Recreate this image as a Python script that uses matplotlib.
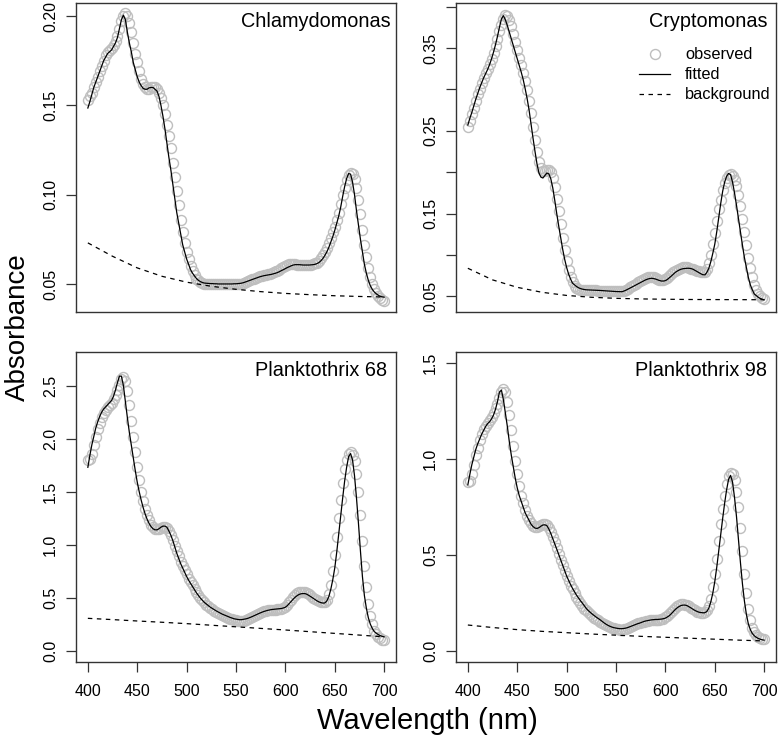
import numpy as np
import matplotlib
matplotlib.use("Agg")
import matplotlib.pyplot as plt
from matplotlib.lines import Line2D

plt.rcParams['font.family'] = ['Liberation Sans', 'DejaVu Sans']

# wavelength grids (nm)
nm = np.arange(400, 701, 2)       # observed + fitted spectra
bg_nm = np.arange(400, 701, 25)   # background curves

names = ['Chlamydomonas', 'Cryptomonas', 'Planktothrix 68', 'Planktothrix 98']

# --- Chlamydomonas ---
chla_obs = [
    0.153, 0.155, 0.157, 0.160, 0.163, 0.166, 0.169, 0.172, 0.175, 0.178,
    0.180, 0.181, 0.182, 0.184, 0.186, 0.189, 0.193, 0.197, 0.200, 0.2015,
    0.200, 0.196, 0.191, 0.185, 0.179, 0.174, 0.169, 0.165, 0.162, 0.160,
    0.159, 0.159, 0.160, 0.160, 0.160, 0.159, 0.157, 0.154, 0.150, 0.145,
    0.139, 0.133, 0.126, 0.118, 0.110, 0.102, 0.094, 0.086, 0.079, 0.073,
    0.068, 0.064, 0.060, 0.057, 0.055, 0.053, 0.052, 0.051, 0.0505, 0.0502,
    0.0500, 0.0500, 0.0500, 0.0500, 0.0500, 0.0500, 0.0500, 0.0500, 0.0500, 0.0500,
    0.0500, 0.0500, 0.0500, 0.0500, 0.0500, 0.0500, 0.0500, 0.0500, 0.0500, 0.0505,
    0.051, 0.0515, 0.052, 0.0525, 0.053, 0.0535, 0.054, 0.0543, 0.0546, 0.0549,
    0.0552, 0.0555, 0.0558, 0.056, 0.0565, 0.057, 0.0575, 0.058, 0.0588, 0.0595,
    0.060, 0.0605, 0.061, 0.061, 0.061, 0.061, 0.0608, 0.0606, 0.0605, 0.0604,
    0.0604, 0.0605, 0.0606, 0.0608, 0.061, 0.0615, 0.062, 0.063, 0.0645, 0.066,
    0.068, 0.070, 0.073, 0.076, 0.079, 0.082, 0.086, 0.090, 0.095, 0.100,
    0.104, 0.108, 0.111, 0.112, 0.1115, 0.109, 0.104, 0.097, 0.089, 0.080,
    0.072, 0.065, 0.059, 0.054, 0.050, 0.047, 0.045, 0.043, 0.042, 0.041,
    0.0405]
chla_fit = [
    0.1485, 0.152, 0.156, 0.160, 0.163, 0.166, 0.169, 0.172, 0.175, 0.177,
    0.179, 0.180, 0.181, 0.183, 0.185, 0.188, 0.193, 0.198, 0.2005, 0.198,
    0.191, 0.185, 0.180, 0.174, 0.170, 0.166, 0.163, 0.161, 0.1595, 0.159,
    0.159, 0.1598, 0.160, 0.160, 0.159, 0.158, 0.155, 0.150, 0.144, 0.137,
    0.129, 0.121, 0.114, 0.106, 0.098, 0.090, 0.084, 0.078, 0.072, 0.068,
    0.064, 0.061, 0.058, 0.056, 0.0545, 0.053, 0.052, 0.0513, 0.0508, 0.0505,
    0.0504, 0.0503, 0.0502, 0.0502, 0.0501, 0.0501, 0.0500, 0.0500, 0.0500, 0.0500,
    0.0500, 0.0500, 0.0500, 0.0500, 0.0501, 0.0501, 0.0502, 0.0503, 0.0505, 0.0508,
    0.0512, 0.0516, 0.0520, 0.0524, 0.0528, 0.0532, 0.0536, 0.0540, 0.0543, 0.0546,
    0.0548, 0.0550, 0.0552, 0.0554, 0.0557, 0.0560, 0.0564, 0.0569, 0.0575, 0.0580,
    0.0586, 0.0592, 0.0597, 0.0602, 0.0606, 0.0608, 0.0608, 0.0608, 0.0607, 0.0606,
    0.0606, 0.0606, 0.0606, 0.0607, 0.0608, 0.0610, 0.0614, 0.0620, 0.0630, 0.0643,
    0.066, 0.068, 0.0705, 0.0735, 0.0765, 0.080, 0.084, 0.088, 0.093, 0.099,
    0.1045, 0.109, 0.1118, 0.1115, 0.107, 0.100, 0.091, 0.083, 0.075, 0.068,
    0.061, 0.056, 0.052, 0.049, 0.047, 0.0455, 0.0445, 0.0437, 0.0431, 0.0428,
    0.0426]
chla_bg = [0.0730, 0.0655, 0.0590, 0.0543, 0.0510, 0.0487, 0.0470,
           0.0457, 0.0447, 0.0440, 0.0434, 0.0430, 0.0427]

# --- Cryptomonas ---
cryp_obs = [
    0.255, 0.262, 0.270, 0.278, 0.286, 0.294, 0.301, 0.308, 0.314, 0.320,
    0.325, 0.331, 0.337, 0.344, 0.352, 0.361, 0.370, 0.378, 0.385, 0.390,
    0.389, 0.384, 0.376, 0.367, 0.357, 0.347, 0.338, 0.329, 0.320, 0.310,
    0.299, 0.286, 0.271, 0.255, 0.239, 0.224, 0.212, 0.205, 0.202, 0.202,
    0.203, 0.203, 0.200, 0.193, 0.182, 0.168, 0.153, 0.137, 0.121, 0.106,
    0.093, 0.082, 0.073, 0.067, 0.063, 0.060, 0.059, 0.058, 0.058, 0.0578,
    0.0577, 0.0576, 0.0575, 0.0574, 0.0573, 0.0572, 0.0571, 0.0570, 0.0569, 0.0567,
    0.0566, 0.0565, 0.0564, 0.0563, 0.0562, 0.0561, 0.0560, 0.0560, 0.0562, 0.0570,
    0.058, 0.0595, 0.061, 0.0625, 0.064, 0.0655, 0.067, 0.0685, 0.070, 0.0712,
    0.0722, 0.073, 0.0735, 0.0735, 0.073, 0.072, 0.071, 0.0703, 0.070, 0.0703,
    0.0712, 0.0728, 0.0748, 0.077, 0.079, 0.081, 0.0825, 0.0837, 0.0845, 0.085,
    0.0852, 0.085, 0.0845, 0.0837, 0.0828, 0.0818, 0.081, 0.0802, 0.0795, 0.0792,
    0.080, 0.083, 0.090, 0.100, 0.113, 0.127, 0.141, 0.155, 0.167, 0.178,
    0.187, 0.193, 0.1965, 0.1975, 0.196, 0.191, 0.183, 0.172, 0.159, 0.144,
    0.128, 0.112, 0.097, 0.084, 0.073, 0.064, 0.058, 0.053, 0.050, 0.0485,
    0.0475]
cryp_fit = [
    0.257, 0.265, 0.272, 0.280, 0.288, 0.295, 0.302, 0.308, 0.314, 0.319,
    0.324, 0.330, 0.337, 0.345, 0.354, 0.364, 0.375, 0.385, 0.389, 0.384,
    0.377, 0.369, 0.361, 0.353, 0.345, 0.337, 0.329, 0.321, 0.312, 0.301,
    0.289, 0.275, 0.258, 0.241, 0.225, 0.210, 0.199, 0.194, 0.193, 0.196,
    0.199, 0.198, 0.192, 0.181, 0.166, 0.150, 0.135, 0.121, 0.107, 0.095,
    0.085, 0.077, 0.071, 0.066, 0.064, 0.062, 0.0605, 0.0595, 0.0588, 0.0583,
    0.0580, 0.0579, 0.0578, 0.0577, 0.0575, 0.0574, 0.0573, 0.0572, 0.0570, 0.0569,
    0.0567, 0.0566, 0.0564, 0.0562, 0.0561, 0.0559, 0.0558, 0.0557, 0.0557, 0.0565,
    0.0575, 0.0587, 0.0599, 0.0612, 0.0625, 0.0638, 0.0650, 0.0662, 0.0675, 0.0688,
    0.0700, 0.0709, 0.0716, 0.0719, 0.0716, 0.0710, 0.0701, 0.0692, 0.0686, 0.0686,
    0.0690, 0.0705, 0.0725, 0.0746, 0.0768, 0.0790, 0.0806, 0.0819, 0.0829, 0.0835,
    0.0838, 0.0840, 0.0840, 0.0836, 0.0828, 0.0815, 0.0801, 0.0787, 0.0773, 0.0762,
    0.0760, 0.079, 0.084, 0.092, 0.102, 0.113, 0.128, 0.145, 0.162, 0.177,
    0.188, 0.195, 0.1985, 0.197, 0.188, 0.175, 0.160, 0.144, 0.128, 0.112,
    0.097, 0.085, 0.073, 0.064, 0.058, 0.053, 0.051, 0.049, 0.0475, 0.0467,
    0.046]
cryp_bg = [0.0840, 0.0700, 0.0610, 0.0550, 0.0512, 0.0490, 0.0477,
           0.0470, 0.0466, 0.0463, 0.0462, 0.0461, 0.0460]

# --- Planktothrix 68 ---
p68_obs = [
    1.80, 1.81, 1.86, 1.94, 2.02, 2.09, 2.15, 2.20, 2.24, 2.27,
    2.30, 2.32, 2.34, 2.37, 2.41, 2.46, 2.51, 2.56, 2.58, 2.54,
    2.45, 2.32, 2.17, 2.02, 1.87, 1.73, 1.61, 1.50, 1.41, 1.34,
    1.28, 1.23, 1.19, 1.165, 1.15, 1.15, 1.15, 1.16, 1.17, 1.17,
    1.16, 1.13, 1.09, 1.04, 0.99, 0.94, 0.89, 0.84, 0.80, 0.76,
    0.72, 0.68, 0.65, 0.615, 0.585, 0.555, 0.525, 0.50, 0.475, 0.455,
    0.435, 0.42, 0.405, 0.39, 0.378, 0.367, 0.356, 0.346, 0.337, 0.328,
    0.32, 0.31, 0.302, 0.295, 0.29, 0.285, 0.281, 0.279, 0.279, 0.281,
    0.286, 0.295, 0.305, 0.316, 0.327, 0.338, 0.348, 0.357, 0.365, 0.372,
    0.378, 0.382, 0.385, 0.387, 0.388, 0.388, 0.389, 0.391, 0.395, 0.402,
    0.415, 0.433, 0.455, 0.48, 0.505, 0.527, 0.543, 0.553, 0.558, 0.558,
    0.553, 0.543, 0.53, 0.515, 0.50, 0.486, 0.474, 0.464, 0.457, 0.455,
    0.46, 0.48, 0.53, 0.62, 0.75, 0.90, 1.07, 1.25, 1.42, 1.58,
    1.71, 1.80, 1.86, 1.875, 1.85, 1.79, 1.67, 1.50, 1.28, 1.03,
    0.80, 0.60, 0.44, 0.33, 0.25, 0.19, 0.155, 0.13, 0.115, 0.105,
    0.10]
p68_fit = [
    1.73, 1.84, 1.94, 2.02, 2.10, 2.16, 2.21, 2.25, 2.28, 2.30,
    2.32, 2.34, 2.36, 2.40, 2.46, 2.53, 2.59, 2.59, 2.50, 2.35,
    2.20, 2.06, 1.94, 1.82, 1.70, 1.59, 1.50, 1.42, 1.35, 1.29,
    1.24, 1.20, 1.17, 1.15, 1.14, 1.14, 1.15, 1.165, 1.175, 1.175,
    1.165, 1.13, 1.09, 1.04, 0.98, 0.92, 0.87, 0.82, 0.78, 0.74,
    0.70, 0.665, 0.635, 0.605, 0.575, 0.545, 0.52, 0.495, 0.475, 0.455,
    0.44, 0.425, 0.41, 0.398, 0.386, 0.375, 0.365, 0.355, 0.345, 0.337,
    0.33, 0.322, 0.314, 0.307, 0.301, 0.297, 0.294, 0.292, 0.293, 0.296,
    0.30, 0.305, 0.312, 0.32, 0.328, 0.337, 0.346, 0.354, 0.362, 0.369,
    0.375, 0.38, 0.384, 0.388, 0.39, 0.392, 0.393, 0.395, 0.398, 0.403,
    0.41, 0.425, 0.445, 0.466, 0.487, 0.505, 0.52, 0.531, 0.537, 0.539,
    0.538, 0.531, 0.52, 0.508, 0.495, 0.482, 0.47, 0.46, 0.453, 0.449,
    0.45, 0.47, 0.51, 0.58, 0.67, 0.78, 0.93, 1.10, 1.27, 1.44,
    1.60, 1.73, 1.83, 1.86, 1.80, 1.65, 1.44, 1.20, 0.94, 0.70,
    0.52, 0.40, 0.31, 0.25, 0.21, 0.18, 0.165, 0.152, 0.142, 0.135,
    0.13]
p68_bg = [0.305, 0.293, 0.280, 0.268, 0.255, 0.240, 0.225,
          0.210, 0.195, 0.179, 0.163, 0.147, 0.130]

# --- Planktothrix 98 ---
p98_obs = [
    0.88, 0.885, 0.92, 0.97, 1.02, 1.06, 1.10, 1.13, 1.155, 1.175,
    1.19, 1.205, 1.22, 1.24, 1.265, 1.29, 1.32, 1.35, 1.365, 1.35,
    1.30, 1.23, 1.15, 1.07, 0.99, 0.92, 0.86, 0.81, 0.77, 0.735,
    0.705, 0.68, 0.665, 0.65, 0.645, 0.645, 0.65, 0.655, 0.66, 0.66,
    0.655, 0.64, 0.62, 0.595, 0.565, 0.535, 0.505, 0.475, 0.445, 0.415,
    0.39, 0.365, 0.34, 0.32, 0.30, 0.28, 0.265, 0.25, 0.235, 0.22,
    0.21, 0.20, 0.19, 0.18, 0.172, 0.165, 0.158, 0.151, 0.145, 0.139,
    0.133, 0.128, 0.123, 0.119, 0.116, 0.113, 0.111, 0.110, 0.110, 0.111,
    0.114, 0.118, 0.123, 0.128, 0.133, 0.138, 0.142, 0.146, 0.149, 0.152,
    0.155, 0.157, 0.159, 0.16, 0.16, 0.16, 0.16, 0.161, 0.164, 0.168,
    0.175, 0.183, 0.193, 0.204, 0.215, 0.225, 0.233, 0.239, 0.242, 0.243,
    0.241, 0.237, 0.231, 0.224, 0.217, 0.21, 0.204, 0.20, 0.197, 0.197,
    0.20, 0.21, 0.235, 0.27, 0.33, 0.40, 0.48, 0.57, 0.66, 0.74,
    0.81, 0.87, 0.91, 0.925, 0.92, 0.89, 0.83, 0.75, 0.64, 0.52,
    0.40, 0.30, 0.22, 0.16, 0.12, 0.095, 0.08, 0.07, 0.065, 0.062,
    0.06]
p98_fit = [
    0.866, 0.92, 0.97, 1.01, 1.05, 1.08, 1.105, 1.13, 1.15, 1.17,
    1.185, 1.195, 1.21, 1.23, 1.26, 1.30, 1.35, 1.36, 1.31, 1.24,
    1.17, 1.09, 1.02, 0.96, 0.90, 0.85, 0.81, 0.78, 0.75, 0.72,
    0.70, 0.68, 0.66, 0.648, 0.64, 0.638, 0.642, 0.65, 0.656, 0.657,
    0.653, 0.635, 0.612, 0.585, 0.558, 0.53, 0.502, 0.474, 0.446, 0.418,
    0.39, 0.367, 0.345, 0.325, 0.307, 0.29, 0.275, 0.261, 0.248, 0.234,
    0.22, 0.209, 0.20, 0.191, 0.183, 0.175, 0.168, 0.161, 0.153, 0.145,
    0.138, 0.132, 0.127, 0.123, 0.12, 0.118, 0.116, 0.115, 0.115, 0.116,
    0.118, 0.121, 0.125, 0.129, 0.133, 0.137, 0.141, 0.144, 0.148, 0.152,
    0.155, 0.157, 0.159, 0.161, 0.162, 0.163, 0.163, 0.164, 0.165, 0.167,
    0.17, 0.176, 0.183, 0.193, 0.204, 0.215, 0.224, 0.231, 0.236, 0.238,
    0.238, 0.235, 0.229, 0.223, 0.216, 0.21, 0.205, 0.201, 0.199, 0.198,
    0.198, 0.205, 0.222, 0.255, 0.30, 0.36, 0.435, 0.52, 0.605, 0.69,
    0.77, 0.84, 0.895, 0.915, 0.88, 0.80, 0.70, 0.58, 0.46, 0.35,
    0.26, 0.19, 0.14, 0.11, 0.09, 0.078, 0.07, 0.064, 0.06, 0.057,
    0.055]
p98_bg = [0.134, 0.121, 0.110, 0.101, 0.094, 0.087, 0.081,
          0.075, 0.070, 0.065, 0.060, 0.055, 0.051]

observed = [chla_obs, cryp_obs, p68_obs, p98_obs]
fitted = [chla_fit, cryp_fit, p68_fit, p98_fit]
background = [chla_bg, cryp_bg, p68_bg, p98_bg]

ytick_vals = [[0.05, 0.10, 0.15, 0.20],
              [0.05, 0.10, 0.15, 0.20, 0.25, 0.30, 0.35, 0.40],
              [0.0, 0.5, 1.0, 1.5, 2.0, 2.5],
              [0.0, 0.5, 1.0, 1.5]]
ytick_labs = [['0.05', '0.10', '0.15', '0.20'],
              ['0.05', '', '0.15', '', '0.25', '', '0.35', ''],
              ['0.0', '0.5', '1.0', '1.5', '2.0', '2.5'],
              ['0.0', '0.5', '1.0', '1.5']]
xtick_vals = [400, 450, 500, 550, 600, 650, 700]

# layout in pixels
W, H = 778, 741
boxes = [(76, 3, 396, 312), (456, 3, 776, 312),
         (76, 352, 396, 662), (456, 352, 776, 662)]
ylims = [(0.0343, 0.2073), (0.0312, 0.4043), (-0.107, 2.818), (-0.059, 1.559)]
title_inset = [5.3, 8.5, 9.3, 9.3]

grey = '#BEBEBE'
edge = '#333333'

fig = plt.figure(figsize=(W / 100, H / 100), dpi=100)

for i in range(4):
    l, t, r, b = boxes[i]
    ax = fig.add_axes([l / W, 1 - b / H, (r - l) / W, (b - t) / H])
    ax.plot(nm, observed[i], ls='none', marker='o', mfc='none',
            mec=grey, ms=7.2, mew=1.0)
    ax.plot(nm, fitted[i], color='black', lw=0.9)
    ax.plot(bg_nm, background[i], color='black', lw=0.9, ls=(0, (3.6, 3.6)))

    ax.set_xlim(388, 712)
    ax.set_ylim(*ylims[i])
    ax.set_yticks(ytick_vals[i])
    ax.set_yticklabels(ytick_labs[i], rotation=90, va='center')
    for s in ax.spines.values():
        s.set_color(edge)
        s.set_linewidth(1.0)
    ax.tick_params(axis='both', direction='out', length=7, width=0.9,
                   color=edge, labelsize=11.5, pad=6)
    if i < 2:
        ax.tick_params(axis='x', bottom=False, labelbottom=False)
    else:
        ax.set_xticks(xtick_vals)
        ax.tick_params(axis='x', pad=9)

    w_px, h_px = r - l, b - t
    ax.text(1 - title_inset[i] / w_px, 1 - 23.7 / h_px, names[i],
            transform=ax.transAxes, ha='right', va='baseline', fontsize=14.3)

    if i == 1:
        handles = [Line2D([], [], ls='none', marker='o', mfc='none', mec=grey,
                          ms=7.2, mew=1.0),
                   Line2D([], [], color='black', lw=0.9),
                   Line2D([], [], color='black', lw=0.9, ls=(0, (3.6, 3.6)))]
        ax.legend(handles, ['observed', 'fitted', 'background'],
                  loc='upper left', bbox_to_anchor=(0.572, 0.856),
                  frameon=False, fontsize=11.8, handlelength=1.9,
                  handletextpad=0.9, labelspacing=0.3, borderpad=0,
                  borderaxespad=0)

fig.text(427 / W, 1 - 729 / H, 'Wavelength (nm)', ha='center', va='baseline',
         fontsize=21)
fig.text(25 / W, 1 - 327 / H, 'Absorbance', rotation=90, rotation_mode='anchor',
         ha='center', va='baseline', fontsize=20)

fig.savefig('out.png', dpi=100)
